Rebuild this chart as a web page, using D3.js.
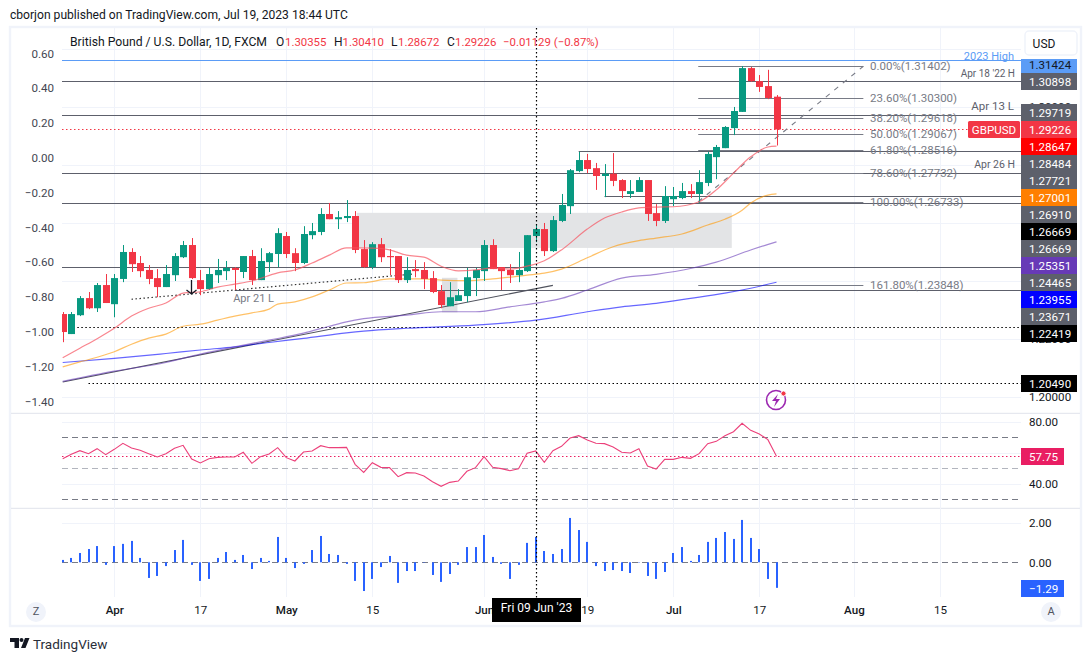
<!doctype html>
<html>
<head>
<meta charset="UTF-8">
<title>GBPUSD</title>
<script src="https://d3js.org/d3.v7.min.js"></script>
<style>
  html, body { margin: 0; padding: 0; background: #fff; }
  svg { display: block; }
  text { font-family: Roboto, sans-serif; }
</style>
</head>
<body>
<svg id="chart" width="1091" height="661"></svg>
<script>
// daily bars
var open = [1.2286,1.2217,1.2282,1.2341,1.2306,1.2386,1.2320,1.2407,1.2500,1.2462,1.2438,1.2410,1.2379,1.2420,1.2482,1.2524,1.2403,1.2372,1.2420,1.2434,1.2445,1.2431,1.2486,1.2403,1.2465,1.2493,1.2555,1.2496,1.2462,1.2558,1.2569,1.2631,1.2613,1.2617,1.2624,1.2510,1.2448,1.2527,1.2486,1.2486,1.2403,1.2441,1.2438,1.2410,1.2365,1.2313,1.2331,1.2348,1.2410,1.2434,1.2524,1.2448,1.2438,1.2420,1.2434,1.2555,1.2579,1.2503,1.2607,1.2658,1.2779,1.2817,1.2789,1.2762,1.2770,1.2748,1.2700,1.2707,1.2748,1.2634,1.2607,1.2682,1.2686,1.2710,1.2700,1.2738,1.2827,1.2858,1.2927,1.2983,1.3134,1.3089,1.3072,1.30355];
var high = [1.2293,1.2293,1.2348,1.2362,1.2393,1.2424,1.2424,1.2524,1.2513,1.2486,1.2455,1.2441,1.2455,1.2496,1.2538,1.2548,1.2438,1.2445,1.2476,1.2469,1.2448,1.2486,1.2507,1.2513,1.2500,1.2582,1.2569,1.2513,1.2589,1.2600,1.2651,1.2669,1.2641,1.2679,1.2641,1.2541,1.2534,1.2548,1.2510,1.2486,1.2482,1.2472,1.2465,1.2434,1.2386,1.2396,1.2372,1.2445,1.2445,1.2541,1.2544,1.2448,1.2458,1.2500,1.2558,1.2593,1.2600,1.2624,1.2700,1.2786,1.2845,1.2838,1.2807,1.2803,1.2841,1.2751,1.2748,1.2758,1.2748,1.2665,1.2727,1.2724,1.2738,1.2734,1.2782,1.2845,1.2869,1.2934,1.3000,1.3141,1.3138,1.3110,1.3128,1.30410];
var low = [1.2189,1.2217,1.2279,1.2303,1.2293,1.2324,1.2275,1.2396,1.2431,1.2413,1.2389,1.2344,1.2379,1.2400,1.2479,1.2407,1.2351,1.2369,1.2393,1.2403,1.2369,1.2410,1.2386,1.2403,1.2431,1.2448,1.2479,1.2434,1.2458,1.2544,1.2558,1.2613,1.2579,1.2603,1.2496,1.2445,1.2441,1.2465,1.2420,1.2393,1.2393,1.2413,1.2372,1.2358,1.2306,1.2313,1.2331,1.2327,1.2348,1.2400,1.2441,1.2369,1.2393,1.2396,1.2431,1.2534,1.2486,1.2500,1.2603,1.2631,1.2775,1.2772,1.2714,1.2689,1.2727,1.2686,1.2686,1.2707,1.2607,1.2589,1.2600,1.2658,1.2682,1.2686,1.2669,1.2727,1.2751,1.2858,1.2903,1.2983,1.3087,1.3052,1.3027,1.28672];
var close = [1.2224,1.2286,1.2341,1.2306,1.2386,1.2324,1.2410,1.2500,1.2458,1.2434,1.2407,1.2379,1.2424,1.2486,1.2524,1.2410,1.2372,1.2424,1.2438,1.2445,1.2438,1.2486,1.2403,1.2469,1.2496,1.2565,1.2493,1.2462,1.2562,1.2572,1.2631,1.2613,1.2620,1.2624,1.2507,1.2448,1.2527,1.2482,1.2482,1.2403,1.2438,1.2434,1.2407,1.2362,1.2317,1.2344,1.2351,1.2413,1.2438,1.2524,1.2441,1.2434,1.2420,1.2438,1.2558,1.2579,1.2503,1.2610,1.2662,1.2782,1.2817,1.2786,1.2762,1.2770,1.2745,1.2710,1.2710,1.2748,1.2631,1.2607,1.2693,1.2693,1.2710,1.2700,1.2741,1.2838,1.2862,1.2931,1.2986,1.3134,1.3089,1.3069,1.3031,1.29226];

// moving averages: bar number and value
var ma20Bars = [0,2,4,6,8,10,12,14,16,18,20,22,25,27,29,31,33,34,36,38,40,42,44,46,48,50,52,54,56,58,61,63,65,67,69,71,74,76,78,80,82,83];
var ma20 = [1.2135,1.2168,1.2201,1.2237,1.2279,1.2306,1.2324,1.2358,1.2363,1.2379,1.2389,1.2400,1.2428,1.2438,1.2462,1.2489,1.2514,1.2514,1.2513,1.2507,1.2489,1.2482,1.2451,1.2435,1.2438,1.2444,1.2441,1.2451,1.2470,1.2507,1.2579,1.2617,1.2638,1.2652,1.2655,1.2656,1.2673,1.2714,1.2772,1.2828,1.2862,1.28647];
var ma50Bars = [0,2,6,8,10,12,14,16,18,20,22,24,25,27,29,31,33,35,38,40,42,44,47,50,54,56,58,61,64,67,69,72,75,77,79,80,82,83];
var ma50 = [1.2104,1.2121,1.2156,1.2182,1.2203,1.2217,1.2244,1.2251,1.2265,1.2279,1.2290,1.2303,1.2320,1.2328,1.2345,1.2369,1.2393,1.2394,1.2407,1.2407,1.2407,1.2403,1.2401,1.2407,1.2420,1.2427,1.2441,1.2480,1.2518,1.2539,1.2548,1.2562,1.2593,1.2613,1.2644,1.2669,1.2696,1.27001];
var ma100Bars = [0,6,12,16,20,24,28,31,33,35,40,44,48,52,56,58,61,65,69,73,76,80,83];
var ma100 = [1.2054,1.2089,1.2119,1.2148,1.2173,1.2196,1.2220,1.2244,1.2259,1.2270,1.2282,1.2294,1.2294,1.2311,1.2328,1.2340,1.2369,1.2410,1.2423,1.2443,1.2465,1.2507,1.25351];
var ma200Bars = [0,6,12,16,20,24,28,33,35,40,48,55,61,65,69,73,77,80,83];
var ma200 = [1.2119,1.2133,1.2150,1.2162,1.2173,1.2188,1.2202,1.2221,1.2227,1.2237,1.2248,1.2265,1.2294,1.2311,1.2323,1.2340,1.2358,1.2375,1.23955];

// lower panes
var rsi = [56.15,58.95,61.31,59.38,62.6,58.73,62.17,66.05,63.03,61.53,59.38,57.23,59.38,62.82,64.75,55.94,53.36,56.15,57.01,57.23,57.23,60.24,53.14,57.44,59.16,63.25,56.8,54.65,60.45,61.1,64.54,63.25,63.25,63.46,52.5,47.33,53.57,50.56,50.35,44.54,47.12,46.9,44.97,41.31,38.3,40.88,41.74,47.98,50.35,57.44,50.56,49.7,48.41,49.7,59.59,61.1,53.79,61.31,64.11,69.49,70.99,68.2,66.05,65.83,63.68,60.24,59.81,62.6,51.42,49.49,55.72,55.72,57.01,56.37,59.38,65.83,67.33,70.99,73.57,78.95,74.43,72.07,68.41,57.75];
var osc = [.12,.22,.47,.67,.82,-.13,.82,.93,1.08,.22,-.79,-.69,-.19,.62,1.13,-.13,-.94,-.84,.22,.52,.12,.37,-.34,.22,.07,1.28,.22,-.29,-.08,.62,1.33,.42,.37,-.08,-.94,-1.45,-.84,-.24,.32,-1.04,-.44,-.44,-.02,-.64,-.99,-.59,-.13,.77,.77,1.38,.27,-.08,-.84,-.13,.98,1.28,.57,.42,.67,2.24,1.63,1.03,-.19,-.44,-.39,-.44,-.54,-.02,-.69,-.84,-.49,.47,.77,.07,.37,1.03,1.23,1.53,1.18,2.14,1.23,.67,-.84,-1.29];

// horizontal lines
var solidLevels = [1.30898,1.29719,1.27721,1.26669,1.24465];
var lateLevels = [1.28484,1.2691,1.23671];
var lateStart = [60,63,20];
var dottedLevels = [1.22419,1.2049];
var dottedStart = [1.7,3];
var highLevel = 1.316;

var fibLabels = ["0.00%","23.60%","38.20%","50.00%","61.80%","78.60%","100.00%","161.80%"];
var fibPrices = [1.31402,1.303,1.29618,1.29067,1.28516,1.27732,1.26733,1.23848];

// right hand labels
var tagText = ["1.31424","1.30898","1.29719","1.29226","1.28647","1.28484","1.27721","1.27001","1.26910","1.26669","1.26669","1.25351","1.24465","1.23955","1.23671","1.22419"];
var tagFill = ["#5b9cf6","#5d606b","#5d606b","#f23645","#ff0000","#5d606b","#5d606b","#ff7f00","#5d606b","#000000","#5d606b","#673ab7","#5d606b","#0000ff","#5d606b","#000000"];
var tagTop = [59,73,104,121,138,155,172,189,206,223,240,257,274,291,308,325];

var priceTicks = [1.2,1.22,1.24,1.26,1.28,1.3,1.32];
var pctTicks = [0.6,0.4,0.2,0,-0.2,-0.4,-0.6,-0.8,-1,-1.2,-1.4];
var dateBars = [6,16,26,36,49,61,71,81,92,102];
var dateLabels = ["Apr","17","May","15","Jun","19","Jul","17","Aug","15"];
var boldDates = ["Apr","May","Jun","Jul","Aug"];

var svg = d3.select("#chart");
var left = 62, right = 1021;

var x = d3.scaleLinear().domain([0, 100]).range([62.7, 922.7]);
var y = d3.scaleLinear().domain([1.2, 1.31402]).range([397, 66.3]);
var yPct = d3.scaleLinear().domain([-1.4, 0.6]).range([401.5, 53.3]);
var yRsi = d3.scaleLinear().domain([40, 80]).range([483.7, 421.7]);
var yOsc = d3.scaleLinear().domain([0, 2]).range([562.3, 522.7]);

// snap a level onto one pixel row
function snap(v){ return Math.floor(v + 0.4) + 0.5; }

svg.append("defs").append("clipPath").attr("id", "plot")
  .append("rect").attr("x", left).attr("y", 28).attr("width", right - left).attr("height", 570);

// frame
svg.append("rect").attr("x", 10).attr("y", 27).attr("width", 1071).attr("height", 599)
  .attr("fill", "none").attr("stroke", "#f0f3fa").attr("stroke-width", 2.4);
svg.selectAll(".sep").data([413.3, 508.3]).enter().append("line")
  .attr("x1", 11).attr("x2", 1080).attr("y1", function(d){ return d; }).attr("y2", function(d){ return d; })
  .attr("stroke", "#e0e3eb");

// grid
var grid = svg.append("g");
grid.selectAll(".vg").data(dateBars).enter().append("line")
  .attr("x1", function(d){ return Math.round(x(d)) + 0.5; }).attr("x2", function(d){ return Math.round(x(d)) + 0.5; })
  .attr("y1", 28).attr("y2", 597).attr("stroke", "#f0f3fa");
function hgrid(values, scale) {
  grid.selectAll(null).data(values).enter().append("line")
    .attr("x1", left).attr("x2", right)
    .attr("y1", function(d){ return Math.round(scale(d)) + 0.5; }).attr("y2", function(d){ return Math.round(scale(d)) + 0.5; })
    .attr("stroke", "#f0f3fa");
}
hgrid(priceTicks, y);
hgrid([40, 60, 80], yRsi);
hgrid([2], yOsc);

// boxes
var draw = svg.append("g").attr("clip-path", "url(#plot)");
draw.append("rect").attr("x", x(34.2)).attr("width", x(77.8) - x(34.2))
  .attr("y", y(1.2635)).attr("height", y(1.2514) - y(1.2635)).attr("fill", "#e3e4e6");
draw.append("rect").attr("x", x(44.1)).attr("width", x(45.9) - x(44.1))
  .attr("y", y(1.2411)).attr("height", y(1.2292) - y(1.2411)).attr("fill", "#dfe0e3");

function hline(price, startBar, color, dash, width) {
  draw.append("line").attr("x1", startBar == null ? left : x(startBar)).attr("x2", right)
    .attr("y1", snap(y(price))).attr("y2", snap(y(price))).attr("stroke", color)
    .attr("stroke-width", width || 1).attr("stroke-dasharray", dash || null);
}
hline(highLevel, null, "#5b9cf6", null, 1);
solidLevels.forEach(function(d){ hline(d, null, "#5d606b"); });
lateLevels.forEach(function(d, i){ hline(d, lateStart[i], "#5d606b"); });
dottedLevels.forEach(function(d, i){ hline(d, dottedStart[i], "#000", "1.5 2.5", 1.2); });
hline(1.29226, null, "#f23645", "1.5 2.5");

// fib retracement
var fibFrom = 73.9, fibTo = 93.1;
draw.selectAll(".fib").data(fibPrices).enter().append("line")
  .attr("x1", x(fibFrom)).attr("x2", x(fibTo))
  .attr("y1", function(d){ return snap(y(d)); }).attr("y2", function(d){ return snap(y(d)); })
  .attr("stroke", "#787b86");
draw.append("line").attr("x1", x(fibFrom)).attr("y1", y(1.26733)).attr("x2", x(fibTo)).attr("y2", y(1.31402))
  .attr("stroke", "#787b86").attr("stroke-width", 1.1).attr("stroke-dasharray", "5 6");
svg.selectAll(".fibt").data(fibPrices).enter().append("text")
  .attr("x", 870).attr("y", function(d){ return y(d); }).attr("dy", "0.33em")
  .attr("font-size", 11.5).attr("fill", "#787b86")
  .text(function(d, i){ return fibLabels[i] + "(" + d3.format(".5f")(d) + ")"; });

// trend lines
draw.append("line").attr("x1", x(0)).attr("y1", y(1.2052)).attr("x2", x(57)).attr("y2", y(1.2385))
  .attr("stroke", "#50535e").attr("stroke-width", 1.1);
draw.append("line").attr("x1", x(8)).attr("y1", y(1.2337)).attr("x2", x(40.8)).attr("y2", y(1.2424))
  .attr("stroke", "#333").attr("stroke-dasharray", "1.5 2.5").attr("stroke-width", 1.2);

// moving averages
function maLine(bars, values, color, op) {
  var line = d3.line()
    .x(function(d, i){ return x(bars[i]); })
    .y(function(d){ return y(d); })
    .curve(d3.curveMonotoneX);
  draw.append("path").attr("d", line(values)).attr("fill", "none")
    .attr("stroke", color).attr("stroke-opacity", op).attr("stroke-width", 1.2);
}
maLine(ma200Bars, ma200, "#0000ff", 0.6);
maLine(ma100Bars, ma100, "#673ab7", 0.6);
maLine(ma50Bars, ma50, "#ff9800", 0.6);

// candles
var up = "#089981", down = "#f23645";
var bars = d3.range(open.length);
function barColor(i){ return close[i] >= open[i] ? up : down; }
draw.selectAll(".wick").data(bars).enter().append("line")
  .attr("x1", function(i){ return Math.round(x(i)) + 0.5; }).attr("x2", function(i){ return Math.round(x(i)) + 0.5; })
  .attr("y1", function(i){ return y(high[i]); }).attr("y2", function(i){ return y(low[i]); })
  .attr("stroke", barColor);
draw.selectAll(".body").data(bars).enter().append("rect")
  .attr("x", function(i){ return Math.round(x(i)) - 3; }).attr("width", 7)
  .attr("y", function(i){ return y(Math.max(open[i], close[i])); })
  .attr("height", function(i){ return Math.max(1, Math.abs(y(open[i]) - y(close[i]))); })
  .attr("fill", barColor);
maLine(ma20Bars, ma20, "#f7525f", 0.7);

// arrow under the mid april candle
draw.append("path")
  .attr("d", "M191.5 280V294M186.5 290L191.5 294L196.5 290")
  .attr("fill", "none").attr("stroke", "#131722").attr("stroke-width", 1.3);

// rsi pane
[70, 50, 30].forEach(function(d){
  draw.append("line").attr("x1", left).attr("x2", right).attr("y1", snap(yRsi(d))).attr("y2", snap(yRsi(d)))
    .attr("stroke", d == 50 ? "#b2b5be" : "#787b86").attr("stroke-dasharray", "6 4");
});
draw.append("line").attr("x1", left).attr("x2", right).attr("y1", snap(yRsi(57.75))).attr("y2", snap(yRsi(57.75)))
  .attr("stroke", "#e91e63").attr("stroke-dasharray", "1.5 2.5");
draw.append("path").attr("fill", "none").attr("stroke", "#ec407a").attr("stroke-width", 1.1)
  .attr("d", d3.line().x(function(d, i){ return x(i); }).y(function(d){ return yRsi(d); })(rsi));

// histogram pane
draw.append("line").attr("x1", left).attr("x2", right).attr("y1", snap(yOsc(0))).attr("y2", snap(yOsc(0)))
  .attr("stroke", "#787b86").attr("stroke-dasharray", "6 4");
draw.selectAll(".osc").data(osc).enter().append("rect")
  .attr("x", function(d, i){ return Math.round(x(i)) - 1; }).attr("width", 2)
  .attr("y", function(d){ return Math.min(yOsc(d), yOsc(0)); })
  .attr("height", function(d){ return Math.abs(yOsc(d) - yOsc(0)); })
  .attr("fill", "#2962ff");

// crosshair
svg.append("line").attr("x1", 536.5).attr("x2", 536.5).attr("y1", 28).attr("y2", 598)
  .attr("stroke", "#000").attr("stroke-dasharray", "1.5 2.5").attr("stroke-width", 1.2);

// axes
var axisFont = 11.6;
function cleanAxis(g) {
  g.select(".domain").remove();
  g.selectAll(".tick line").remove();
  g.selectAll("text").attr("font-family", "Roboto, sans-serif").attr("font-size", axisFont).attr("fill", "#131722");
}
svg.append("g").attr("transform", "translate(54,0)")
  .call(d3.axisLeft(yPct).tickValues(pctTicks).tickSize(0).tickPadding(0).tickFormat(d3.format(".2f")))
  .call(cleanAxis).selectAll("text").attr("fill", "#434651");
svg.append("g").attr("transform", "translate(1029,0)")
  .call(d3.axisRight(y).tickValues([1.2, 1.22, 1.3]).tickSize(0).tickPadding(0).tickFormat(d3.format(".5f")))
  .call(cleanAxis);
svg.append("g").attr("transform", "translate(1029,0)")
  .call(d3.axisRight(yRsi).tickValues([40, 80]).tickSize(0).tickPadding(0).tickFormat(d3.format(".2f")))
  .call(cleanAxis);
svg.append("g").attr("transform", "translate(1029,0)")
  .call(d3.axisRight(yOsc).tickValues([0, 2]).tickSize(0).tickPadding(0).tickFormat(d3.format(".2f")))
  .call(cleanAxis);
svg.append("g").attr("transform", "translate(0,606)")
  .call(d3.axisBottom(x).tickValues(dateBars).tickSize(0).tickPadding(0)
    .tickFormat(function(d, i){ return dateLabels[i]; }))
  .call(cleanAxis)
  .selectAll("text").attr("font-weight", function(d, i){ return boldDates.indexOf(dateLabels[i]) >= 0 ? 500 : 400; });

// price tags
var tags = svg.append("g");
tags.selectAll("rect").data(tagText).enter().append("rect")
  .attr("x", 1021).attr("width", 56)
  .attr("y", function(d, i){ return tagTop[i]; })
  .attr("height", function(d, i){ return i == 0 ? 14 : 17; })
  .attr("fill", function(d, i){ return tagFill[i]; });
tags.selectAll("text").data(tagText).enter().append("text")
  .attr("x", 1029).attr("y", function(d, i){ return i == 0 ? tagTop[i] + 6 : tagTop[i] + 8.5; }).attr("dy", "0.35em")
  .attr("font-size", axisFont).attr("fill", function(d, i){ return i == 0 ? "#131722" : "#fff"; })
  .text(function(d){ return d; });

function tag(xp, yp, w, h, fill, label) {
  svg.append("rect").attr("x", xp).attr("y", yp).attr("width", w).attr("height", h).attr("fill", fill);
  svg.append("text").attr("x", xp + 8).attr("y", yp + h / 2).attr("dy", "0.35em")
    .attr("font-size", axisFont).attr("fill", "#fff").text(label);
}
tag(1021, 375, 56, 17, "#000", "1.20490");
tag(1021, 448, 43, 17, "#e91e63", "57.75");
tag(1021, 580, 43, 17, "#2962ff", "\u22121.29");
svg.append("rect").attr("x", 968).attr("y", 121).attr("width", 52).attr("height", 17).attr("rx", 1.5).attr("fill", "#f23645");
svg.append("text").attr("x", 994).attr("y", 129.5).attr("dy", "0.35em").attr("text-anchor", "middle")
  .attr("font-size", axisFont).attr("fill", "#fff").text("GBPUSD");

// notes on the chart
function note(xp, yp, label, color, size, anchor) {
  svg.append("text").attr("x", xp).attr("y", yp).attr("dy", "0.35em").attr("text-anchor", anchor || "end")
    .attr("font-size", size).attr("fill", color).text(label);
}
note(1014, 56, "2023 High", "#5b9cf6", 11);
note(1015, 73, "Apr 18 '22 H", "#5d606b", 10);
note(1014, 106, "Apr 13 L", "#5d606b", 11.5);
note(1015, 164, "Apr 26 H", "#5d606b", 10.5);
note(274, 298.5, "Apr 21 L", "#787b86", 11);

// title and legend
note(10, 15, "cborjon published on TradingView.com, Jul 19, 2023 18:44 UTC", "#131722", 12.1, "start");
note(70, 42, "British Pound / U.S. Dollar, 1D, FXCM", "#131722", 12.2, "start");
var legendKeys = ["O", "H", "L", "C"];
var legendValues = ["1.30355", "1.30410", "1.28672", "1.29226"];
var legendKeyX = [276, 334, 391, 447];
var legendValueX = [285, 342.5, 398, 455];
legendKeys.forEach(function(d, i){
  note(legendKeyX[i], 42, d, "#131722", 12, "start");
  note(legendValueX[i], 42, legendValues[i], "#f23645", 11.4, "start");
});
note(503, 42, "\u22120.01129 (\u22120.87%)", "#f23645", 11.4, "start");

// time axis extras
svg.append("rect").attr("x", 492).attr("y", 598).attr("width", 89).attr("height", 24).attr("fill", "#000");
svg.append("text").attr("x", 536.5).attr("y", 612).attr("text-anchor", "middle").attr("font-size", 12)
  .attr("fill", "#fff").text("Fri 09 Jun '23");
[[36, "Z"], [1051, "A"]].forEach(function(d){
  svg.append("circle").attr("cx", d[0]).attr("cy", 612).attr("r", 10).attr("fill", "#f0f3fa");
  svg.append("text").attr("x", d[0]).attr("y", 611).attr("dy", "0.35em").attr("text-anchor", "middle")
    .attr("font-size", 11).attr("fill", "#50535e").text(d[1]);
});

// currency button
svg.append("rect").attr("x", 1025).attr("y", 31).attr("width", 52).attr("height", 24).attr("rx", 4)
  .attr("fill", "#fff").attr("stroke", "#f0f3fa").attr("stroke-width", 1.5);
svg.append("text").attr("x", 1044).attr("y", 43.5).attr("dy", "0.35em").attr("text-anchor", "middle")
  .attr("font-size", 12).attr("fill", "#131722").text("USD");

// earnings style icon
svg.append("circle").attr("cx", 776).attr("cy", 400).attr("r", 9.5).attr("fill", "none").attr("stroke", "#9c27b0").attr("stroke-width", 1.6);
svg.append("path").attr("d", "M778 394L772 401H776L774 407L780 399H776Z").attr("fill", "#9c27b0");
svg.append("circle").attr("cx", 783.5).attr("cy", 393.5).attr("r", 2.6).attr("stroke", "#fff").attr("fill", "#f23645");

// logo
svg.append("path").attr("fill", "#131722")
  .attr("d", "M10 638H19V648H14.5V642H10ZM25 638H29.5L25.5 648H21Z");
svg.append("circle").attr("cx", 21.5).attr("cy", 640).attr("r", 2).attr("fill", "#131722");
svg.append("text").attr("x", 33).attr("y", 644).attr("dy", "0.35em").attr("font-size", 13.5).attr("fill", "#2a2e39").text("TradingView");
</script>
</body>
</html>
